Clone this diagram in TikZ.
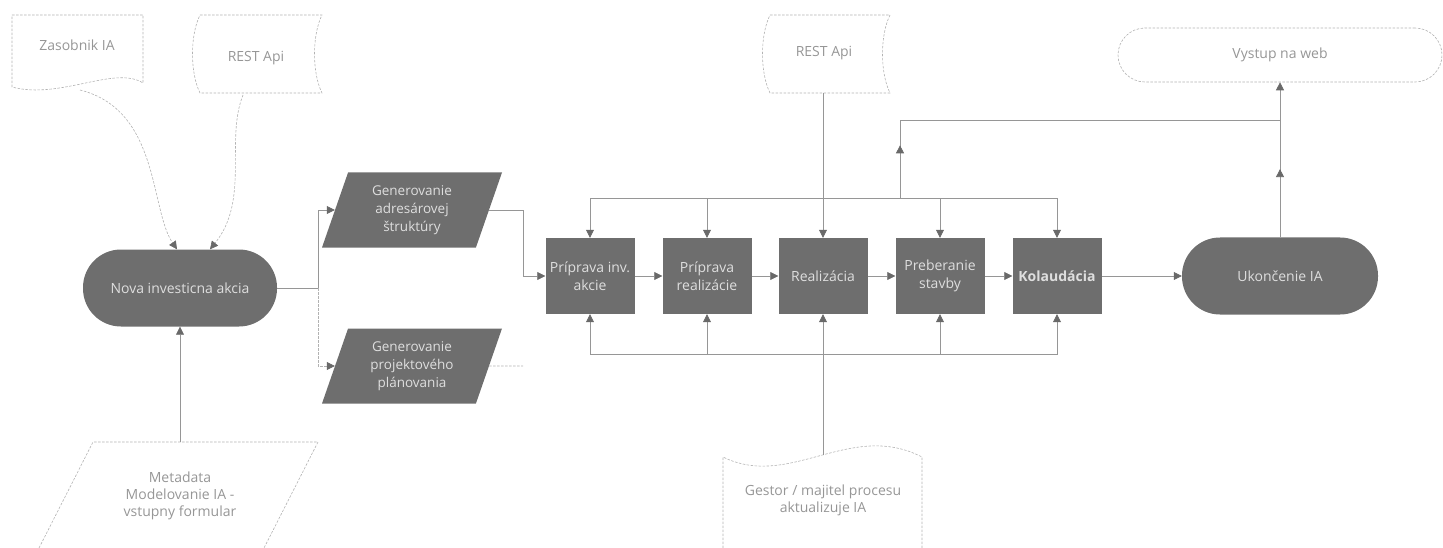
\documentclass[tikz,border=0pt]{standalone}
\usepackage{fontspec}
\setmainfont{Open Sans}
\usetikzlibrary{arrows.meta,shapes.geometric,decorations.markings}

\definecolor{boxfill}{RGB}{110,110,110}
\definecolor{boxtext}{RGB}{222,222,222}
\definecolor{linegray}{RGB}{150,150,150}
\definecolor{tipgray}{RGB}{105,105,105}
\definecolor{dashgray}{RGB}{178,178,178}
\definecolor{softgray}{RGB}{150,150,150}

\begin{document}
\begin{tikzpicture}[x=1pt,y=-1pt,
  darkbox/.style={rectangle,fill=boxfill,text=boxtext,align=center,font=\fontsize{14}{18}\selectfont,minimum width=89pt,minimum height=76pt,inner sep=1pt},
  darkpill/.style={darkbox,rounded corners=38pt,minimum height=77pt},
  darkpara/.style={darkbox,trapezium,trapezium left angle=63,trapezium right angle=117,trapezium stretches body,minimum width=180pt,minimum height=75pt,font=\fontsize{13.5}{18}\selectfont},
  softtext/.style={text=softgray,align=center,font=\fontsize{14}{17}\selectfont},
  softline/.style={draw=dashgray,line width=.6pt,dash pattern=on 2.5pt off 1.5pt},
  conn/.style={draw=linegray,line width=.7pt},
  arr/.style={-{Triangle[length=8pt,width=8pt,color=tipgray]}},
  midarr/.style={postaction={decorate},decoration={markings,mark=at position #1 with {\arrow{Triangle[length=8pt,width=8pt,color=tipgray]}}}}]

\useasboundingbox (0,0) rectangle (1443,548);



\draw[softline] (12,15) -- (143,15) -- (143,83) .. controls (115,65) and (60,100) .. (12,87) -- cycle;
\node[softtext] (zas) at (77,45) {Zasobnik IA};

\draw[softline] (200,15) -- (322,15) .. controls (312,35) and (312,73) .. (322,93) -- (200,93) .. controls (190,73) and (190,35) .. (200,15) -- cycle;
\node[softtext] (apil) at (256,58) {REST Api};

\draw[softline] (770,15) -- (890,15) .. controls (880,35) and (880,73) .. (890,93) -- (770,93) .. controls (760,73) and (760,35) .. (770,15) -- cycle;
\node[softtext] (apim) at (824,53) {REST Api};

\node[softtext,softline,rounded corners=27pt,minimum width=324pt,minimum height=54pt] (web) at (1280,55) {Vystup na web};



\draw[softline] (39,548) -- (93,442) -- (318,442) -- (264,548);
\node[softtext] (meta) at (180,496) {Metadata\\Modelovanie IA -\\vstupny formular};

\draw[softline] (723,548) -- (723,457) .. controls (790,490) and (850,420) .. (922,457) -- (922,548);
\node[softtext] (gest) at (823,500) {Gestor / majitel procesu\\aktualizuje IA};



\node[darkpill,minimum width=194pt] (nova) at (180,288) {Nova investicna akcia};

  \node[darkpara] (gena) at (412,210) {Generovanie\\adresárovej\\štruktúry};
  \node[darkpara] (genp) at (412,366) {Generovanie\\projektového\\plánovania};

\node[darkbox] (prip) at (590,276) {Príprava inv.\\akcie};
\node[darkbox] (pripreal) at (707,276) {Príprava\\realizácie};
\node[darkbox] (real) at (823,276) {Realizácia};
\node[darkbox] (preb) at (940,276) {Preberanie\\stavby};
\node[darkbox,font=\bfseries\fontsize{14}{18}\selectfont] (kol) at (1057,276) {Kolaudácia};

\node[darkpill,minimum width=196pt] (ukon) at (1280,276) {Ukončenie IA};



\coordinate (zasout) at (80,90);
\coordinate (apilout) at (243,95);
\coordinate (apimout) at (823,93);
\coordinate (metatop) at (180,442);
\coordinate (gesttop) at (823,455);
\coordinate (split) at (318,288);
\coordinate (merge) at (523,276);
\coordinate (genpend) at (523,366);
\coordinate (bustop) at (823,198);
\coordinate (busbot) at (823,354);
\coordinate (webfork) at (900,198);
\coordinate (webjoin) at (1280,120);


  \draw[softline,arr] (zasout) .. controls (160,110) and (150,210) .. ([xshift=-3pt]nova.north);
  \draw[softline,arr] (apilout) .. controls (225,140) and (250,200) .. ([xshift=30pt]nova.north);

\draw[conn,arr] (metatop) -- (nova.south);

\draw[conn] (nova.east) -- (split);
\draw[conn,arr] (split) |- (gena.west);
\draw[softline,arr] (split) |- (genp.west);

\draw[conn,arr] (gena.east) -| (merge) -- (prip.west);
\draw[softline] (genp.east) -- (genpend);

\foreach \a/\b in {prip/pripreal,pripreal/real,real/preb,preb/kol}
  \draw[conn,arr] (\a) -- (\b);
\draw[conn,arr] (kol) -- (ukon);

\draw[conn,arr] (apimout) -- (real.north);
\foreach \b in {prip,pripreal,preb,kol}
  \draw[conn,arr] (bustop) -| (\b.north);

\draw[conn,midarr=0.115] (webfork) |- (webjoin);
\draw[conn,arr,midarr=0.44] (ukon.north) -- (web.south);

\draw[conn] (gesttop) -- (busbot);
\draw[conn,arr] (busbot) -- (real.south);
\foreach \b in {prip,pripreal,preb,kol}
  \draw[conn,arr] (busbot) -| (\b.south);

\end{tikzpicture}
\end{document}
